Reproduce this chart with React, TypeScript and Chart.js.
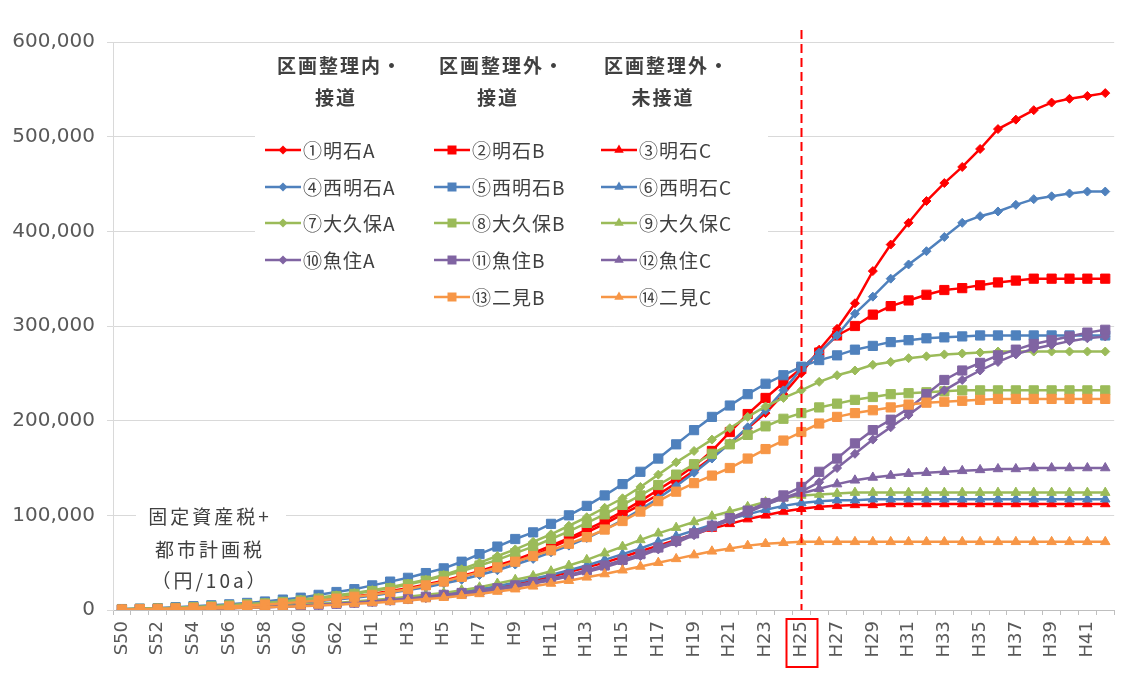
import React, { useEffect, useRef } from 'react';
import { Chart, registerables } from 'chart.js';

Chart.register(...registerables);

// ---------------- data ----------------
const categories = [
  'S50', 'S51', 'S52', 'S53', 'S54', 'S55', 'S56', 'S57', 'S58', 'S59', 'S60', 'S61', 'S62', 'S63',
  'H1', 'H2', 'H3', 'H4', 'H5', 'H6', 'H7', 'H8', 'H9', 'H10', 'H11', 'H12', 'H13', 'H14',
  'H15', 'H16', 'H17', 'H18', 'H19', 'H20', 'H21', 'H22', 'H23', 'H24', 'H25', 'H26', 'H27', 'H28',
  'H29', 'H30', 'H31', 'H32', 'H33', 'H34', 'H35', 'H36', 'H37', 'H38', 'H39', 'H40', 'H41', 'H42',
];

const seriesNames = [
  '①明石A', '②明石B', '③明石C',
  '④西明石A', '⑤西明石B', '⑥西明石C',
  '⑦大久保A', '⑧大久保B', '⑨大久保C',
  '⑩魚住A', '⑪魚住B', '⑫魚住C',
  '⑬二見B', '⑭二見C',
];

const akashiA = [
  500, 1000, 1500, 2000, 2500, 3000, 4000, 5000, 6000, 7000, 8500, 10000, 12000, 14000,
  16000, 19000, 22000, 26000, 30000, 35000, 40000, 45000, 51000, 57000,
  66000, 74000, 82000, 91000, 101000, 111000, 122000, 134000, 147000, 161000,
  176000, 192000, 208000, 228000, 250000, 275000, 297000, 324000, 358000, 386000,
  409000, 432000, 451000, 468000, 487000, 508000, 518000, 528000, 536000, 540000,
  543000, 546000,
];
const akashiB = [
  500, 1000, 1300, 1800, 2400, 3000, 3800, 4800, 6000, 7000, 8500, 10000, 12000, 14000,
  17000, 20000, 23000, 27000, 31000, 36000, 41000, 47000, 53000, 60000,
  68000, 76000, 85000, 94000, 104000, 115000, 127000, 139000, 152000, 168000,
  188000, 207000, 224000, 240000, 255000, 272000, 290000, 300000, 312000, 321000,
  327000, 333000, 338000, 340000, 343000, 346000, 348000, 350000, 350000, 350000,
  350000, 350000,
];
const akashiC = [
  300, 500, 700, 1000, 1300, 1700, 2200, 2700, 3300, 4000, 4800, 5700, 6700, 8000,
  9000, 10500, 12000, 14000, 16000, 18000, 21000, 24000, 27000, 31000,
  35000, 40000, 45000, 50000, 56000, 62000, 68000, 74000, 80000, 86000,
  91000, 96000, 100000, 104000, 107000, 109000, 110000, 111000, 111000, 112000,
  112000, 112000, 112000, 112000, 112000, 112000, 112000, 112000, 112000, 112000,
  112000, 112000,
];
const nishiA = [
  500, 800, 1200, 1600, 2200, 2800, 3500, 4300, 5300, 6500, 8000, 9500, 11000, 13000,
  15000, 18000, 21000, 24000, 28000, 32000, 37000, 42000, 48000, 54000,
  61000, 68000, 76000, 85000, 95000, 106000, 118000, 131000, 145000, 160000,
  176000, 193000, 211000, 232000, 255000, 272000, 290000, 313000, 331000, 350000,
  365000, 379000, 394000, 409000, 416000, 421000, 428000, 434000, 437000, 440000,
  442000, 442000,
];
const nishiB = [
  1000, 1500, 2000, 3000, 4000, 5000, 6000, 7500, 9000, 11000, 13000, 16000, 19000, 22000,
  26000, 30000, 34000, 39000, 44000, 51000, 59000, 67000, 75000, 82000,
  91000, 100000, 110000, 121000, 133000, 146000, 160000, 175000, 190000, 204000,
  216000, 228000, 239000, 248000, 257000, 264000, 269000, 275000, 279000, 283000,
  285000, 287000, 288000, 289000, 290000, 290000, 290000, 290000, 290000, 290000,
  290000, 290000,
];
const nishiC = [
  300, 500, 700, 1000, 1400, 1800, 2300, 2800, 3400, 4200, 5000, 6000, 7000, 8300,
  9500, 11000, 12500, 14500, 16500, 19000, 22000, 25000, 29000, 33000,
  37000, 42000, 47000, 53000, 59000, 65000, 72000, 78000, 84000, 90000,
  96000, 101000, 106000, 110000, 113000, 115000, 116000, 116000, 117000, 117000,
  117000, 117000, 117000, 117000, 117000, 117000, 117000, 117000, 117000, 117000,
  117000, 117000,
];
const okuboA = [
  800, 1200, 1700, 2300, 3000, 4000, 5000, 6000, 7500, 9000, 11000, 13000, 15500, 18000,
  21000, 24000, 28000, 32000, 37000, 43000, 50000, 57000, 64000, 72000,
  80000, 89000, 98000, 108000, 118000, 130000, 143000, 156000, 168000, 180000,
  192000, 204000, 215000, 224000, 232000, 241000, 248000, 253000, 259000, 262000,
  266000, 268000, 270000, 271000, 272000, 273000, 273000, 273000, 273000, 273000,
  273000, 273000,
];
const okuboB = [
  800, 1200, 1600, 2200, 3000, 3800, 4800, 6000, 7000, 8500, 10000, 12000, 14500, 17000,
  20000, 23000, 27000, 31000, 36000, 41000, 47000, 53000, 60000, 67000,
  75000, 83000, 92000, 101000, 111000, 121000, 132000, 143000, 154000, 165000,
  175000, 185000, 194000, 202000, 208000, 214000, 218000, 222000, 225000, 228000,
  229000, 230000, 231000, 232000, 232000, 232000, 232000, 232000, 232000, 232000,
  232000, 232000,
];
const okuboC = [
  300, 500, 800, 1100, 1500, 2000, 2500, 3000, 3700, 4500, 5500, 6500, 7500, 9000,
  10500, 12000, 14000, 16000, 18000, 21000, 24000, 28000, 32000, 36000,
  41000, 47000, 53000, 60000, 67000, 74000, 81000, 87000, 93000, 99000,
  104000, 109000, 114000, 118000, 121000, 122000, 123000, 124000, 124000, 124000,
  124000, 124000, 124000, 124000, 124000, 124000, 124000, 124000, 124000, 124000,
  124000, 124000,
];
const uozumiA = [
  300, 500, 700, 900, 1200, 1600, 2000, 2500, 3000, 3600, 4300, 5100, 6000, 7000,
  8200, 9500, 11000, 12500, 14500, 16500, 19000, 21500, 24500, 28000,
  31500, 35500, 40000, 45000, 51000, 57000, 64000, 71000, 79000, 87000,
  95000, 103000, 111000, 118000, 125000, 135000, 150000, 165000, 180000, 193000,
  206000, 220000, 232000, 243000, 253000, 262000, 270000, 276000, 280000, 284000,
  287000, 289000,
];
const uozumiB = [
  300, 500, 700, 1000, 1300, 1700, 2100, 2600, 3200, 3900, 4700, 5600, 6600, 7800,
  9000, 10500, 12000, 14000, 16000, 18000, 20500, 23000, 26000, 29500,
  33000, 37000, 42000, 47000, 53000, 59000, 66000, 73000, 81000, 89000,
  97000, 105000, 113000, 121000, 130000, 146000, 160000, 176000, 190000, 201000,
  213000, 228000, 243000, 253000, 261000, 269000, 275000, 281000, 285000, 289000,
  293000, 296000,
];
const uozumiC = [
  300, 500, 700, 900, 1200, 1600, 2000, 2500, 3000, 3700, 4500, 5300, 6300, 7500,
  8700, 10000, 11500, 13000, 15000, 17000, 19500, 22000, 25000, 28500,
  32000, 36000, 41000, 46000, 52000, 58000, 65000, 72000, 80000, 88000,
  96000, 104000, 112000, 118000, 123000, 128000, 133000, 137000, 140000, 142000,
  144000, 145000, 146000, 147000, 148000, 149000, 149000, 150000, 150000, 150000,
  150000, 150000,
];
const futamiB = [
  500, 800, 1200, 1700, 2300, 3000, 3800, 4700, 5800, 7000, 8500, 10000, 12000, 14000,
  16000, 19000, 22000, 26000, 30000, 35000, 40000, 45000, 51000, 57000,
  63000, 70000, 77000, 85000, 94000, 104000, 115000, 125000, 134000, 142000,
  150000, 160000, 170000, 179000, 188000, 197000, 204000, 208000, 211000, 214000,
  217000, 219000, 220000, 221000, 222000, 223000, 223000, 223000, 223000, 223000,
  223000, 223000,
];
const futamiC = [
  300, 500, 700, 900, 1200, 1500, 1900, 2300, 2800, 3400, 4000, 4800, 5600, 6500,
  7500, 8600, 10000, 11500, 13000, 15000, 17000, 19500, 22000, 25000,
  28000, 31000, 34500, 38000, 42000, 46000, 50000, 54000, 58000, 62000,
  65000, 68000, 70000, 71000, 72000, 72000, 72000, 72000, 72000, 72000,
  72000, 72000, 72000, 72000, 72000, 72000, 72000, 72000, 72000, 72000,
  72000, 72000,
];

const seriesValues = [
  akashiA, akashiB, akashiC,
  nishiA, nishiB, nishiC,
  okuboA, okuboB, okuboC,
  uozumiA, uozumiB, uozumiC,
  futamiB, futamiC,
];

const yTicks = [0, 100000, 200000, 300000, 400000, 500000, 600000];
const groupHeaders = [['区画整理内・', '接道'], ['区画整理外・', '接道'], ['区画整理外・', '未接道']];
const axisNote = ['固定資産税+', '都市計画税', '（円/10a）'];
const markedCategory = 'H25';

// ---------------- styles ----------------
const RED = '#FF0000';
const BLUE = '#4F81BD';
const GREEN = '#9BBB59';
const PURPLE = '#8064A2';
const ORANGE = '#F79646';
const seriesColors = [RED, RED, RED, BLUE, BLUE, BLUE, GREEN, GREEN, GREEN, PURPLE, PURPLE, PURPLE, ORANGE, ORANGE];
const seriesShapes = ['d', 's', 't', 'd', 's', 't', 'd', 's', 't', 'd', 's', 't', 's', 't'];
// legend grid position [col,row] for each series
const legendCells = [
  [0, 0], [1, 0], [2, 0],
  [0, 1], [1, 1], [2, 1],
  [0, 2], [1, 2], [2, 2],
  [0, 3], [1, 3], [2, 3],
  [1, 4], [2, 4],
];

const JP = '"Noto Sans CJK JP", "Noto Sans", sans-serif';
const TEXT = '#404040';

function shapeToStyle(s: string) {
  return s === 'd' ? 'rectRot' : s === 's' ? 'rect' : 'triangle';
}
function shapeRadius(s: string) {
  return s === 'd' ? 4.5 : s === 's' ? 6.5 : 5.5;
}

function drawMarker(ctx: CanvasRenderingContext2D, s: string, x: number, y: number, color: string) {
  ctx.save();
  ctx.fillStyle = color;
  ctx.beginPath();
  if (s === 'd') {
    const r = 4.5;
    ctx.moveTo(x, y - r); ctx.lineTo(x + r, y); ctx.lineTo(x, y + r); ctx.lineTo(x - r, y);
  } else if (s === 's') {
    const h = 4.5;
    ctx.rect(x - h, y - h, 2 * h, 2 * h);
  } else {
    const r = 5.5;
    ctx.moveTo(x, y - r);
    ctx.lineTo(x + r * 0.866, y + r * 0.5);
    ctx.lineTo(x - r * 0.866, y + r * 0.5);
  }
  ctx.closePath();
  ctx.fill();
  ctx.restore();
}

const overlayPlugin = {
  id: 'overlay',
  beforeDatasetsDraw(chart: any) {
    const ctx: CanvasRenderingContext2D = chart.ctx;
    ctx.save();
    // white box behind axis note
    ctx.fillStyle = '#FFFFFF';
    ctx.fillRect(136, 502, 150, 93);
    ctx.fillStyle = TEXT;
    ctx.font = `19px ${JP}`;
    (ctx as any).letterSpacing = '3px';
    ctx.textAlign = 'center';
    ctx.textBaseline = 'middle';
    const ys = [517, 550, 581];
    axisNote.forEach((t, i) => ctx.fillText(t, 210, ys[i]));
    ctx.restore();
  },
  afterDatasetsDraw(chart: any) {
    const ctx: CanvasRenderingContext2D = chart.ctx;
    const xs = chart.scales.x;
    const ys = chart.scales.y;
    const idx = categories.indexOf(markedCategory);
    const xp = Math.round(xs.getPixelForValue(idx)) + 0.5;

    ctx.save();
    // dashed red marker line
    ctx.strokeStyle = RED;
    ctx.lineWidth = 2;
    ctx.setLineDash([9, 5]);
    ctx.beginPath();
    ctx.moveTo(xp, 30);
    ctx.lineTo(xp, ys.bottom);
    ctx.stroke();
    ctx.setLineDash([]);
    // red box around the label
    ctx.strokeRect(xp - 15, 619, 31, 48);

    // legend
    ctx.fillStyle = '#FFFFFF';
    ctx.fillRect(255, 46, 513, 270);
    ctx.fillStyle = TEXT;
    ctx.textBaseline = 'middle';
    ctx.textAlign = 'center';
    ctx.font = `bold 19px ${JP}`;
    (ctx as any).letterSpacing = '2px';
    const headCenters = [340, 502, 667];
    groupHeaders.forEach((lines, c) => {
      ctx.fillText(lines[0], headCenters[c], 66);
      ctx.fillText(lines[1], headCenters[c] - 4, 98);
    });
    const colX = [265, 434, 601];
    const rowY = [150, 187, 223, 260, 297];
    ctx.font = `19px ${JP}`;
    (ctx as any).letterSpacing = '1px';
    ctx.textAlign = 'left';
    legendCells.forEach(([c, r], i) => {
      const x0 = colX[c];
      const y0 = rowY[r];
      ctx.strokeStyle = seriesColors[i];
      ctx.lineWidth = 2.5;
      ctx.beginPath();
      ctx.moveTo(x0, y0);
      ctx.lineTo(x0 + 36, y0);
      ctx.stroke();
      drawMarker(ctx, seriesShapes[i], x0 + 18, y0, seriesColors[i]);
      ctx.fillStyle = TEXT;
      ctx.fillText(seriesNames[i], x0 + 38, y0 + 1);
    });
    ctx.restore();
  },
};

export default function App() {
  const ref = useRef<HTMLCanvasElement>(null);
  useEffect(() => {
    const datasets = seriesValues.map((vals, i) => ({
      label: seriesNames[i],
      data: vals,
      borderColor: seriesColors[i],
      backgroundColor: seriesColors[i],
      borderWidth: 2.5,
      pointStyle: shapeToStyle(seriesShapes[i]),
      pointRadius: shapeRadius(seriesShapes[i]),
      pointBorderWidth: 1,
      pointBorderColor: seriesColors[i],
      pointBackgroundColor: seriesColors[i],
      tension: 0,
      order: seriesValues.length - i,
    }));
    const chart = new Chart(ref.current as HTMLCanvasElement, {
      type: 'line',
      data: { labels: categories, datasets },
      options: {
        responsive: false,
        devicePixelRatio: 1,
        animation: false,
        layout: { padding: { top: 42, right: 17, bottom: 0, left: 0 } },
        plugins: { legend: { display: false }, tooltip: { enabled: false } },
        scales: {
          x: {
            type: 'category',
            offset: true,
            grid: { display: true, drawOnChartArea: false, drawTicks: true, tickLength: 5, color: '#BFBFBF', offset: true },
            border: { color: '#BFBFBF', width: 1 },
            ticks: {
              autoSkip: false,
              maxRotation: 90,
              minRotation: 90,
              padding: 6,
              color: '#595959',
              font: { family: '"DejaVu Sans", sans-serif', size: 18 },
              callback: (_v: any, i: number) => (i % 2 === 0 ? categories[i] : ''),
            },
            afterFit: (s: any) => { s.height = 70; },
          },
          y: {
            min: 0,
            max: 600000,
            afterBuildTicks: (s: any) => { s.ticks = yTicks.map((v) => ({ value: v })); },
            grid: { color: '#D9D9D9', lineWidth: 1, tickLength: 6 },
            border: { color: '#D9D9D9', width: 1 },
            ticks: {
              padding: 12,
              color: '#595959',
              font: { family: '"DejaVu Sans", sans-serif', size: 20 },
              callback: (v: any) => Number(v).toLocaleString('en-US'),
            },
            afterFit: (s: any) => { s.width = 113; },
          },
        },
      },
      plugins: [overlayPlugin],
    } as any);
    return () => chart.destroy();
  }, []);
  return (
    <div style={{ position: 'fixed', left: 0, top: 0, width: 1133, height: 680, background: '#FFFFFF' }}>
      <canvas ref={ref} width={1133} height={680} style={{ display: 'block', width: 1133, height: 680 }} />
    </div>
  );
}
